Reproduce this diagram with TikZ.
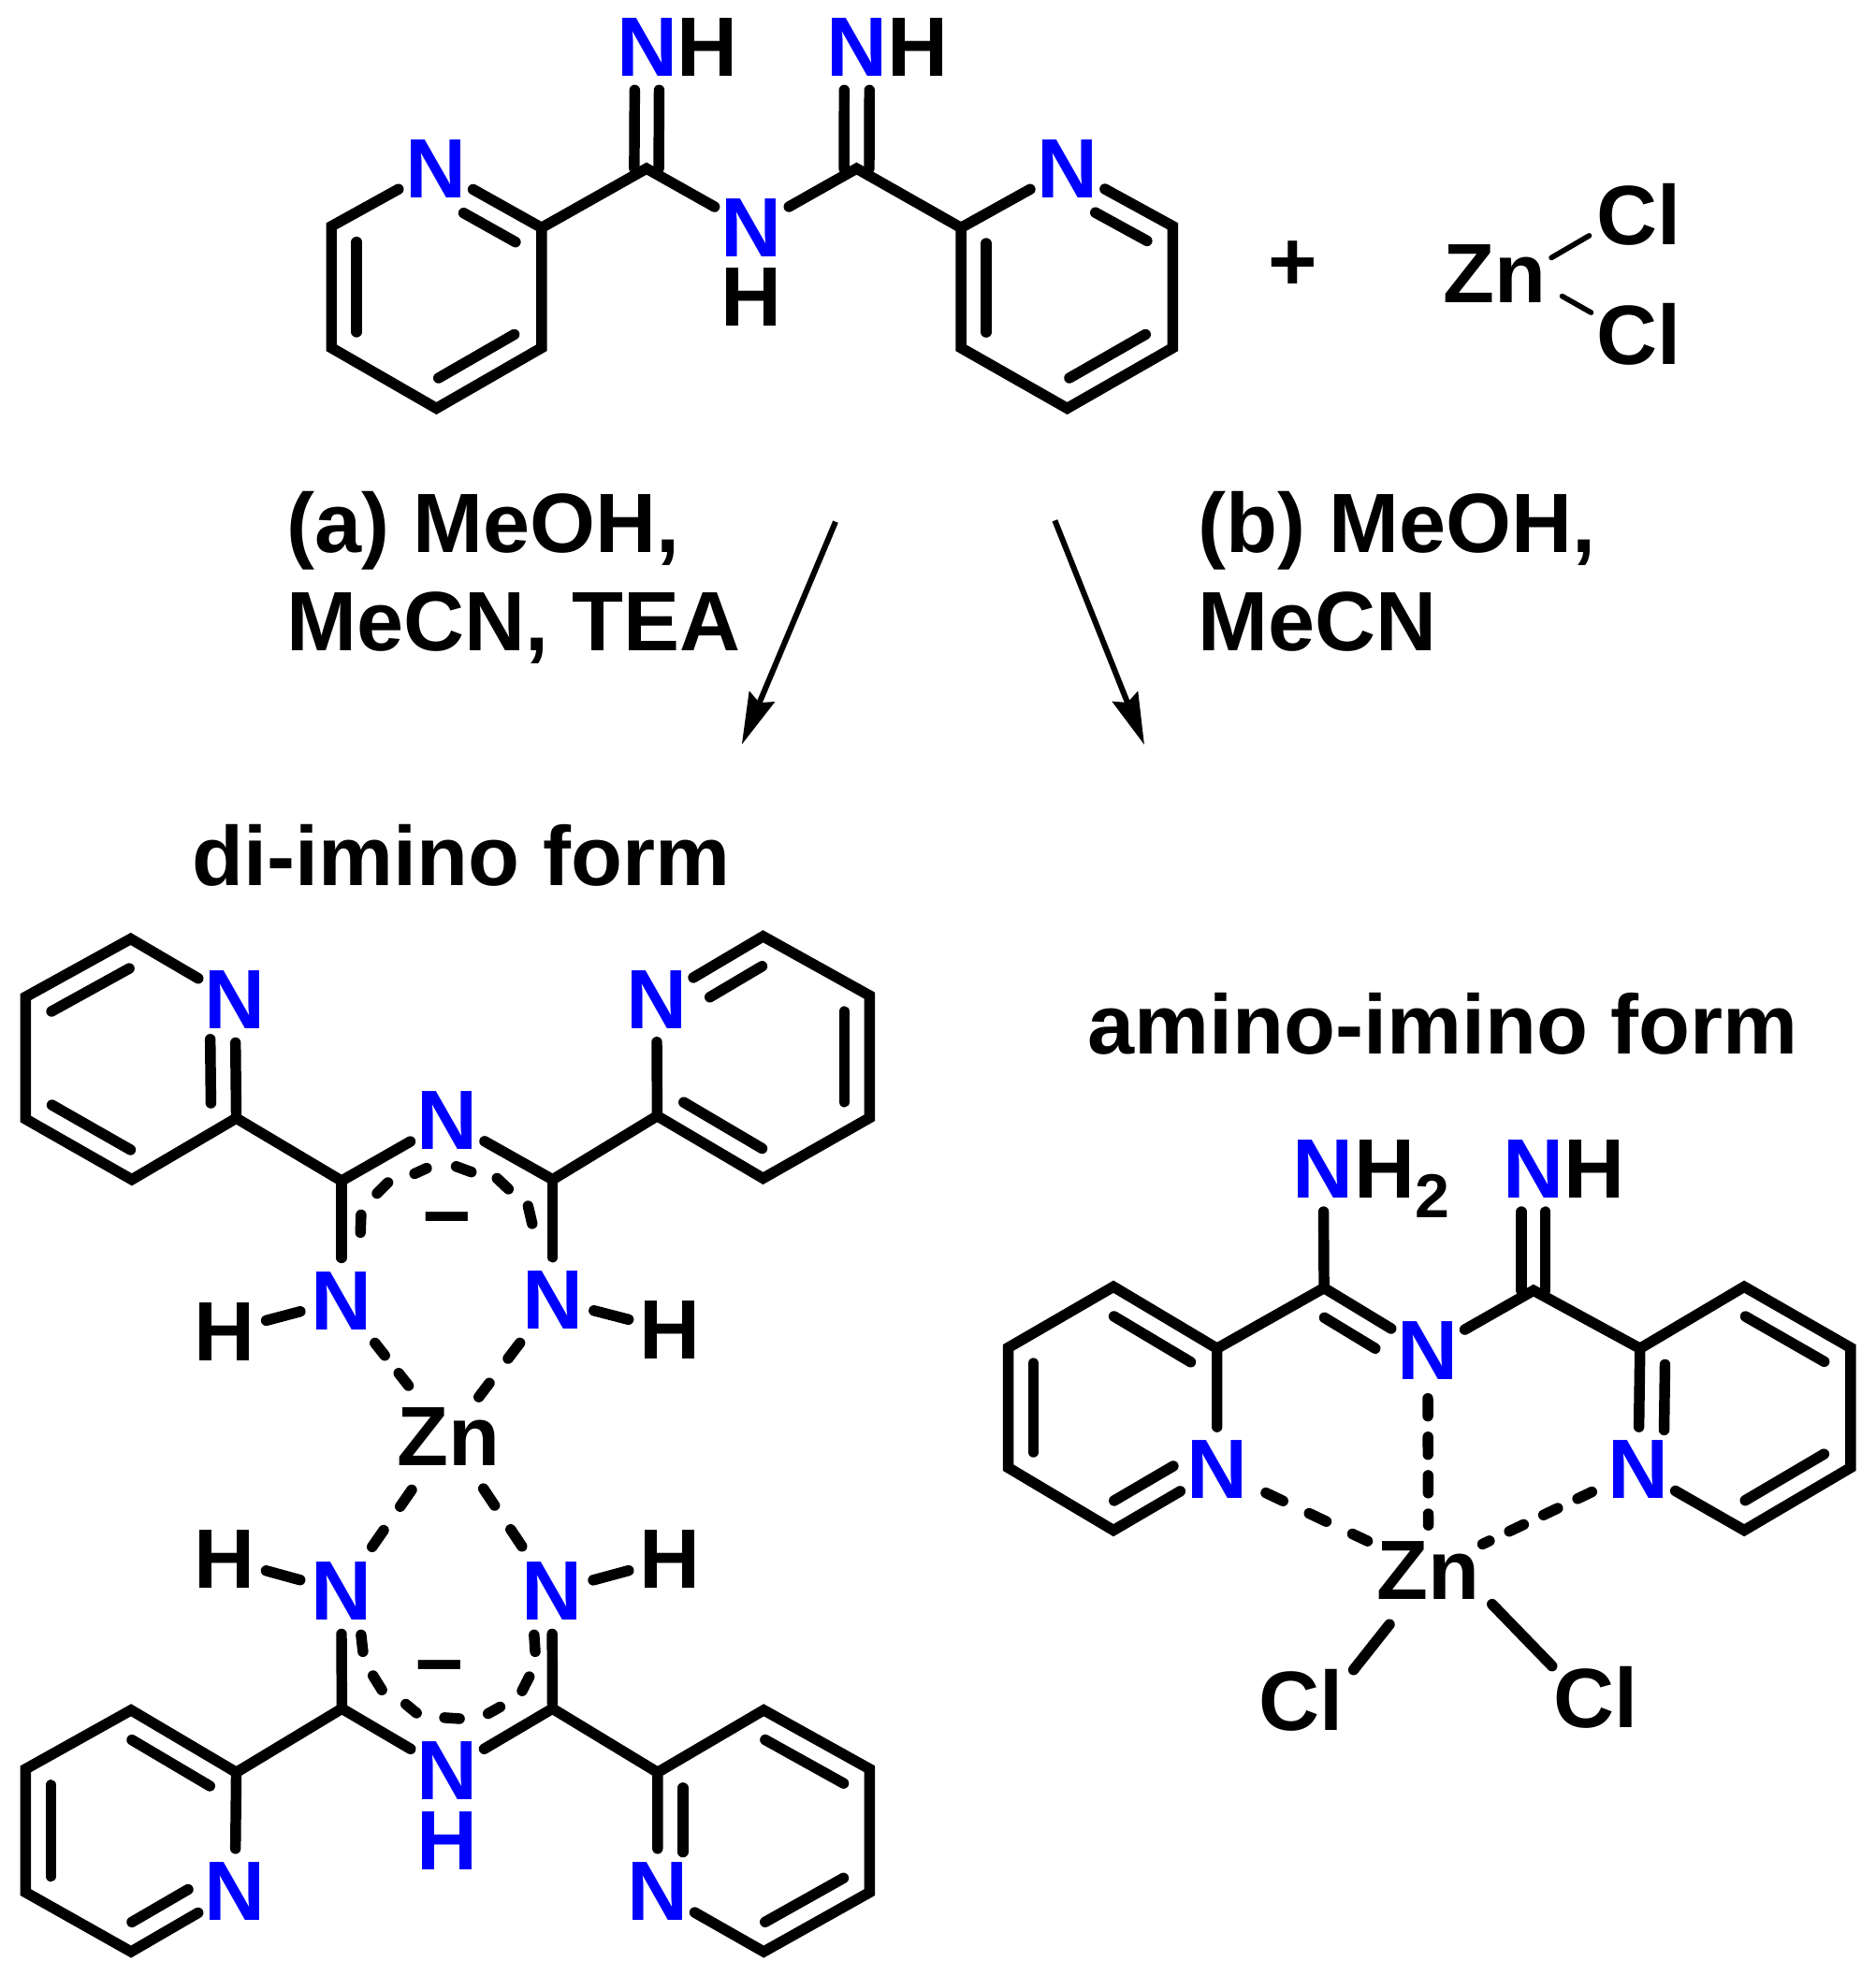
\documentclass[tikz,border=0pt]{standalone}
\usepackage{fontspec}
\setmainfont{Liberation Sans}
\usetikzlibrary{calc,arrows.meta}
\definecolor{nblue}{RGB}{0,0,255}
\tikzset{
  bond/.style={line width=.085cm,line cap=round,line join=miter},
  thinbond/.style={line width=.042cm,line cap=round},
  dbond/.style 2 args={bond,dash pattern=on #1cm off #2cm},
  atom/.style={circle,inner sep=0pt,minimum size=#1,font=\fontsize{19}{19}\selectfont\bfseries},
  natom/.style={atom=.64cm,text=nblue},
  hatom/.style={atom=.64cm},
  znatom/.style={atom=.92cm},
  clatom/.style={atom=.82cm},
  lbl/.style={inner sep=0pt,anchor=base west,font=\fontsize{19}{19}\selectfont\bfseries},
  arr/.style={line width=.045cm,-{Stealth[length=.41cm,width=.215cm,inset=.05cm]}},
  up/.style={transform canvas={xshift=#1cm}},
}
\newcommand\inb[4]{\draw[bond] ($(#1)!#3!(#2)!.2cm!90:(#2)$) -- ($(#2)!#4!(#1)!.2cm!-90:(#1)$);}
\newcommand\dblb[3]{\draw[bond,up=-#3] (#1) -- (#2);\draw[bond,up=#3] (#1) -- (#2);}
\begin{document}
\begin{tikzpicture}[x=.01cm,y=-.01cm]
\useasboundingbox (0,0) rectangle (1488,1568);
\fill[white] (0,0) rectangle (1488,1568);
% ---------- top ligand
\node[natom] (aN) at (345.8,133.7) {N};
\node[natom] (bN) at (847,133.7) {N};
\node[natom] (cN) at (596.5,180.7) {N};
\node[hatom] (cH) at (596.5,236) {H};
\node[natom] (dN) at (513.5,37.6) {N};
\node[hatom] (dH) at (561.3,37.6) {H};
\node[natom] (eN) at (680,37.6) {N};
\node[hatom] (eH) at (728.4,37.6) {H};
\coordinate (a1) at (263,179.5);\coordinate (a2) at (263,276);\coordinate (a3) at (346.3,324);
\coordinate (a4) at (429.7,276);\coordinate (a5) at (429.7,180.7);
\coordinate (b1) at (762.5,180.7);\coordinate (b2) at (762.5,276);\coordinate (b3) at (846.8,324);
\coordinate (b4) at (930.6,276);\coordinate (b5) at (930.6,179.5);
\coordinate (c1) at (513,133.7);\coordinate (c2) at (679.7,133.7);
\draw[bond] (aN) -- (a1) -- (a2) -- (a3) -- (a4) -- (a5) -- (aN);
\draw[bond] (bN) -- (b1) -- (b2) -- (b3) -- (b4) -- (b5) -- (bN);
\draw[bond] (a5) -- (c1) -- (cN);
\draw[bond] (b1) -- (c2) -- (cN);
\dblb{c1}{dN}{.097}
\dblb{c2}{eN}{.1}
\inb{a5}{aN}{.13}{.38}\inb{a1}{a2}{.13}{.13}\inb{a3}{a4}{.14}{.14}
\inb{b5}{bN}{.13}{.38}\inb{b1}{b2}{.13}{.13}\inb{b3}{b4}{.14}{.14}
% ---------- plus, ZnCl2
\node[atom=.4cm] (plus) at (1026,211) {+};
\node[znatom] (tz) at (1186,217.2) {Zn};
\node[clatom] (tc1) at (1300,170) {Cl};
\node[clatom] (tc2) at (1300,265.5) {Cl};
\coordinate (tb1) at (1231,204.5);\coordinate (tb2) at (1261,187);
\coordinate (tb3) at (1239.5,235);\coordinate (tb4) at (1262.5,248);
\draw[thinbond] (tb1) -- (tb2);
\draw[thinbond] (tb3) -- (tb4);
% ---------- conditions
\node[lbl] (la1) at (227,438.5) {(a) MeOH,};
\node[lbl] (la2) at (227,516.5) {MeCN, TEA};
\node[lbl] (lb1) at (950,438.5) {(b) MeOH,};
\node[lbl] (lb2) at (950,516.5) {MeCN};
\coordinate (ar1s) at (663,414);\coordinate (ar1e) at (588.6,590.8);
\coordinate (ar2s) at (837,413);\coordinate (ar2e) at (908,591);
\draw[arr] (ar1s) -- (ar1e);
\draw[arr] (ar2s) -- (ar2e);
\node[lbl] (lc) at (152,703) {di-imino form};
\node[lbl] (ld) at (862,836.5) {amino-imino form};
% ---------- di-imino complex, upper ligand
\node[natom] (fN) at (186.5,793.5) {N};
\node[natom] (gN) at (521,793) {N};
\node[natom] (hN) at (355,889) {N};
\node[natom] (iN) at (271,1032) {N};
\node[natom] (jN) at (438.5,1031.5) {N};
\node[hatom] (iH) at (178.5,1056.5) {H};
\node[hatom] (jH) at (531.5,1055.5) {H};
\node[znatom] (zn) at (356,1140) {Zn};
\coordinate (f1) at (103.7,745);\coordinate (f2) at (20.4,791);\coordinate (f3) at (20.4,888);
\coordinate (f4) at (104.6,936);\coordinate (f5) at (187.5,887.3);
\coordinate (g1) at (605.5,743);\coordinate (g2) at (690,790);\coordinate (g3) at (690,887);
\coordinate (g4) at (605.5,935);\coordinate (g5) at (521.5,885.5);
\coordinate (c3) at (271,937);\coordinate (c4) at (438.5,936);
\draw[bond] (fN) -- (f1) -- (f2) -- (f3) -- (f4) -- (f5) -- (fN);
\draw[bond] (gN) -- (g1) -- (g2) -- (g3) -- (g4) -- (g5) -- (gN);
\draw[bond] (f5) -- (c3) -- (hN);
\draw[bond] (g5) -- (c4) -- (hN);
\draw[bond] (c3) -- (iN);
\draw[bond] (c4) -- (jN);
\inb{f1}{f2}{.13}{.13}\inb{f3}{f4}{.13}{.13}\inb{f5}{fN}{.13}{.33}
\inb{g1}{gN}{.13}{.38}\inb{g3}{g2}{.13}{.13}\inb{g5}{g4}{.13}{.13}
\draw[bond] (286,978) -- (286.5,964) (299.2,947) -- (307.8,938.4) (329,931.3) -- (338.5,927)
  (362,925.6) -- (374,930) (394.4,935) -- (403.4,943.5) (419,957) -- (422.3,971);
\node[atom=.3cm] (mi1) at (355,975) {−};
\draw[bond] (iH) -- (iN);
\draw[bond] (jH) -- (jN);
\draw[dbond={.125}{.18},shorten <=.09cm] (iN) -- (zn);
\draw[dbond={.155}{.245},shorten <=.09cm,shorten >=-.08cm] (jN) -- (zn);
% ---------- di-imino complex, lower ligand
\node[natom] (kN) at (186.5,1500.8) {N};
\node[natom] (lN) at (521.8,1500.8) {N};
\node[natom] (mN) at (355,1405) {N};
\node[natom] (mH) at (355,1461) {H};
\node[natom] (oN) at (270.8,1262.7) {N};
\node[natom] (pN) at (438,1262.7) {N};
\node[hatom] (oH) at (178.5,1237.4) {H};
\node[hatom] (pH) at (531.5,1237.4) {H};
\coordinate (k1) at (104,1357);\coordinate (k2) at (20.4,1403.7);\coordinate (k3) at (20.4,1501.6);
\coordinate (k4) at (104,1548.7);\coordinate (k5) at (187.5,1406.4);
\coordinate (l1) at (606,1357);\coordinate (l2) at (690,1403.7);\coordinate (l3) at (690,1501.6);
\coordinate (l4) at (606,1548.7);\coordinate (l5) at (521.8,1406.4);
\coordinate (c5) at (271.3,1355.8);\coordinate (c6) at (438.4,1355.8);
\draw[bond] (kN) -- (k4) -- (k3) -- (k2) -- (k1) -- (k5) -- (kN);
\draw[bond] (lN) -- (l4) -- (l3) -- (l2) -- (l1) -- (l5) -- (lN);
\draw[bond] (k5) -- (c5) -- (mN);
\draw[bond] (l5) -- (c6) -- (mN);
\draw[bond] (c5) -- (oN);
\draw[bond] (c6) -- (pN);
\inb{k5}{k1}{.13}{.13}\inb{k2}{k3}{.13}{.13}\inb{k4}{kN}{.13}{.33}
\inb{l2}{l1}{.13}{.13}\inb{l4}{l3}{.13}{.13}\inb{l5}{lN}{.13}{.33}
\draw[bond] (286.5,1297.3) -- (288,1310.6) (296,1329.7) -- (303,1341) (322,1352.3) -- (330.5,1359.3)
  (352.7,1363) -- (364.6,1363.8) (387.3,1359.8) -- (396.8,1354.5) (414.3,1341.7) -- (420,1330.5)
  (424.7,1310.6) -- (423.8,1297.3);
\node[atom=.3cm] (mi2) at (349,1330.4) {−};
\draw[bond] (oH) -- (oN);
\draw[bond] (pH) -- (pN);
\draw[dbond={.16}{.23},shorten <=.09cm] (oN) -- (zn);
\draw[dbond={.16}{.23},shorten <=.09cm] (pN) -- (zn);
% ---------- amino-imino complex
\node[natom] (qN) at (965.7,1166.2) {N};
\node[natom] (rN) at (1300,1166.2) {N};
\node[natom] (sN) at (1132.8,1071.8) {N};
\node[natom] (tN) at (1050,927.6) {N};
\node[hatom] (tH) at (1098.5,927.6) {H};
\node[atom=.3cm,font=\fontsize{14}{14}\selectfont\bfseries] (t2) at (1136.7,949) {2};
\node[natom] (uN) at (1216.8,927.6) {N};
\node[hatom] (uH) at (1265,927.6) {H};
\node[znatom] (zm) at (1133.5,1245.8) {Zn};
\node[clatom] (cl1) at (1032,1349.5) {Cl};
\node[clatom] (cl2) at (1266,1347) {Cl};
\coordinate (q1) at (965.7,1070);\coordinate (q2) at (883.5,1021);\coordinate (q3) at (800,1069.4);
\coordinate (q4) at (800,1164.6);\coordinate (q5) at (883.5,1214.3);
\coordinate (r1) at (1301.3,1070);\coordinate (r2) at (1384,1021);\coordinate (r3) at (1468.4,1069.4);
\coordinate (r4) at (1468.4,1164.6);\coordinate (r5) at (1384,1214.3);
\coordinate (c7) at (1050.6,1022);\coordinate (c8) at (1216.8,1024);
\coordinate (zb1) at (1102.5,1289);\coordinate (zb2) at (1074,1325);
\coordinate (zb3) at (1184,1273);\coordinate (zb4) at (1231.5,1322);
\draw[bond] (qN) -- (q1) -- (q2) -- (q3) -- (q4) -- (q5) -- (qN);
\draw[bond] (rN) -- (r1) -- (r2) -- (r3) -- (r4) -- (r5) -- (rN);
\draw[bond] (q1) -- (c7) -- (sN);
\draw[bond] (r1) -- (c8) -- (sN);
\draw[bond] (c7) -- (tN);
\dblb{c8}{uN}{.095}
\inb{q1}{q2}{.13}{.13}\inb{q3}{q4}{.13}{.13}\inb{q5}{qN}{.13}{.3}
\inb{r3}{r2}{.13}{.13}\inb{r1}{rN}{.13}{.33}\inb{r5}{r4}{.13}{.13}
\inb{sN}{c7}{.38}{.13}
\draw[dbond={.14}{.165},shorten <=.04cm,shorten >=-.12cm] (sN) -- (zm);
\draw[dbond={.15}{.23},shorten <=.09cm,shorten >=.06cm] (qN) -- (zm);
\draw[dbond={.125}{.175},shorten <=.07cm] (rN) -- (zm);
\draw[bond] (zb1) -- (zb2);
\draw[bond] (zb3) -- (zb4);
\end{tikzpicture}
\end{document}
